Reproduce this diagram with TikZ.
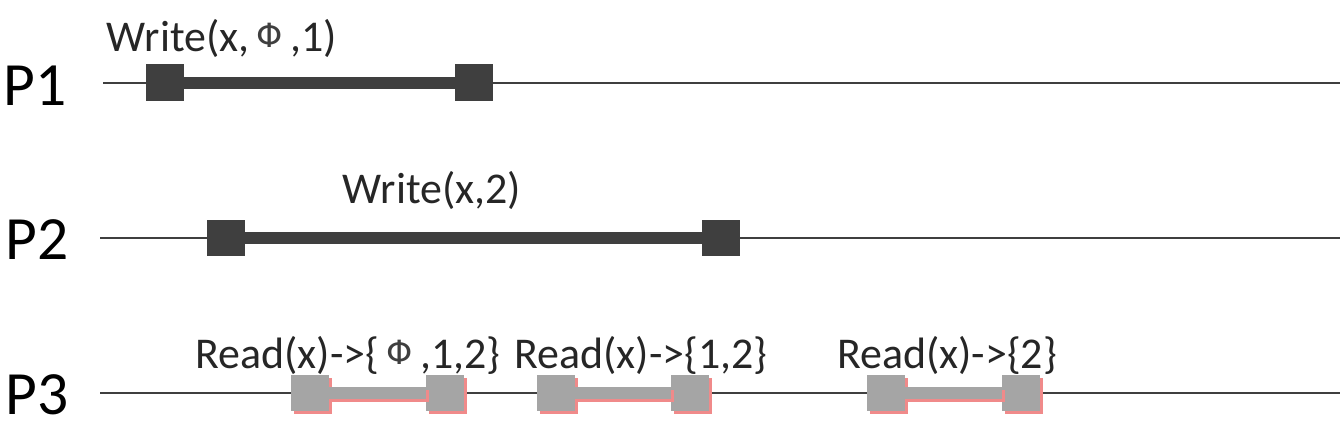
\documentclass[tikz,border=0pt]{standalone}
\usepackage{fontspec}
\setmainfont{Carlito}
\newfontfamily\phifont{DejaVu Sans}
\usepackage{tikz}
\usetikzlibrary{shadows}

\definecolor{opdark}{HTML}{3F3F3F}
\definecolor{opgray}{HTML}{A5A5A5}
\definecolor{shred}{HTML}{F08A8A}

\newcommand{\phisym}{\raisebox{2pt}{\phifont\fontsize{19}{22}\selectfont\color{opdark}Φ}}

\tikzset{
	timeline/.style={draw=opdark, line width=0.04cm},
	wbox/.style={fill=opdark, minimum width=0.76cm, minimum height=0.74cm, inner sep=0pt},
	wbar/.style={draw=opdark, line width=0.24cm},
	rbox/.style={fill=opgray, minimum width=0.76cm, minimum height=0.74cm, inner sep=0pt,
		drop shadow={shadow xshift=0.06cm, shadow yshift=-0.06cm, fill=shred, opacity=1}},
	rbar/.style={draw=opgray, line width=0.24cm},
	rbarsh/.style={draw=shred, line width=0.24cm},
	oplabel/.style={font=\fontsize{25}{30}\selectfont, text=black!85, inner sep=0pt},
	proc/.style={font=\fontsize{35}{42}\selectfont, inner sep=0pt}
}

\begin{document}
\begin{tikzpicture}[x=0.02cm, y=-0.02cm]
	\useasboundingbox (0,0) rectangle (1344,435);
	% processes
	\node[proc] (p1) at (35,86) {P1};
	\node[proc] (p2) at (37,240) {P2};
	\node[proc] (p3) at (37,395) {P3};
	\coordinate (t1s) at (103,83);  \coordinate (t1e) at (1340,83);
	\coordinate (t2s) at (100,238); \coordinate (t2e) at (1340,238);
	\coordinate (t3s) at (100,393); \coordinate (t3e) at (1340,393);
	\foreach \i in {1,2,3} {\draw[timeline] (t\i s) -- (t\i e);}
	% writes
	\node[wbox] (w1a) at (165,83) {};
	\node[wbox] (w1b) at (474,83) {};
	\draw[wbar] (w1a.east) -- (w1b.west);
	\node[oplabel] (w1) at (222,38) {Write(x,\,\phisym\,,1)};
	\node[wbox] (w2a) at (226,238) {};
	\node[wbox] (w2b) at (721,238) {};
	\draw[wbar] (w2a.east) -- (w2b.west);
	\node[oplabel] (w2) at (432,190) {Write(x,2)};
	% reads
	\foreach \i/\a/\b in {1/310/445, 2/556/690, 3/886/1021} {
		\node[rbox] (r\i a) at (\a,393) {};
		\node[rbox] (r\i b) at (\b,393) {};
		\draw[rbarsh] ([shift={(3,3)}]r\i a.east) -- ([shift={(3,3)}]r\i b.west);
		\draw[rbar] (r\i a.east) -- (r\i b.west);
	}
	\node[oplabel] (r1) at (348,355) {Read(x)->\{\,\phisym\,,1,2\}};
	\node[oplabel] (r2) at (641,355) {Read(x)->\{1,2\}};
	\node[oplabel] (r3) at (947,355) {Read(x)->\{2\}};
\end{tikzpicture}
\end{document}
